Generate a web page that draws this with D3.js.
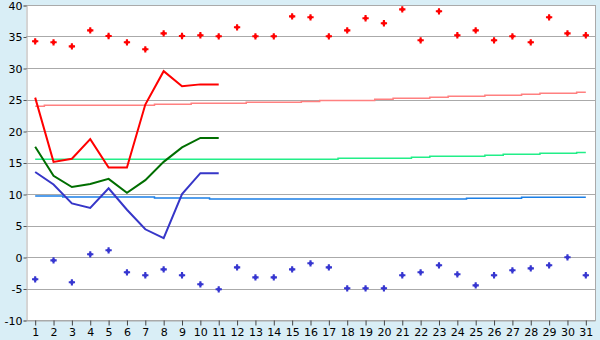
<!DOCTYPE html>
<html>
<head>
<meta charset="utf-8">
<script src="https://cdn.jsdelivr.net/npm/d3@7.9.0/dist/d3.min.js"></script>
<style>
  html, body { margin: 0; padding: 0; background: #d9eef6; }
  svg { display: block; }
  text { font-family: "DejaVu Sans", Verdana, sans-serif; font-size: 11px; fill: #000; }
</style>
</head>
<body>
<div id="chart"></div>
<script>
const days = [1, 2, 3, 4, 5, 6, 7, 8, 9, 10, 11, 12, 13, 14, 15, 16, 17, 18, 19, 20, 21, 22, 23, 24, 25, 26, 27, 28, 29, 30, 31];
const yTicks = [-10, -5, 0, 5, 10, 15, 20, 25, 30, 35, 40];

// scattered daily points
const highPoints = [34.24, 34.08, 33.44, 35.98, 35.08, 34.08, 32.97, 35.5, 35.08, 35.2, 35.03,
  36.46, 35.03, 35.03, 38.2, 38.05, 35.03, 35.98, 37.9, 37.1, 39.3, 34.4, 39.0, 35.2, 35.98,
  34.4, 35.03, 34.08, 38.05, 35.5, 35.2];
const lowPoints = [-3.54, -0.53, -4.02, 0.43, 1.06, -2.43, -2.9, -1.96, -2.9, -4.33, -5.13,
  -1.64, -3.23, -3.23, -1.96, -1.0, -1.64, -4.97, -4.97, -4.97, -2.9, -2.43, -1.32, -2.75, -4.5,
  -2.9, -2.11, -1.8, -1.32, -0.05, -2.9];

// lines for the first 11 days
const redLine = [25.3, 15.1, 15.6, 18.7, 14.2, 14.2, 24.2, 29.5, 27.1, 27.4, 27.4];
const greenLine = [17.5, 12.9, 11.1, 11.6, 12.4, 10.2, 12.2, 15.1, 17.4, 18.9, 18.9];
const blueLine = [13.5, 11.5, 8.5, 7.8, 10.9, 7.5, 4.4, 3.0, 10.0, 13.3, 13.3];

// slowly rising step lines over the month
const pinkTrend = [23.92, 24.08, 24.08, 24.08, 24.08, 24.08, 24.08, 24.24, 24.24, 24.4, 24.4,
  24.4, 24.55, 24.55, 24.55, 24.7, 24.86, 24.86, 24.86, 25.03, 25.19, 25.19, 25.35, 25.5, 25.5,
  25.67, 25.67, 25.82, 25.98, 25.98, 26.14];
const greenTrend = [15.5, 15.5, 15.5, 15.5, 15.5, 15.5, 15.5, 15.5, 15.5, 15.5, 15.5, 15.5, 15.5,
  15.5, 15.5, 15.5, 15.5, 15.66, 15.66, 15.66, 15.66, 15.82, 15.98, 15.98, 15.98, 16.14, 16.3,
  16.3, 16.46, 16.46, 16.6];
const blueTrend = [9.68, 9.68, 9.52, 9.52, 9.52, 9.52, 9.52, 9.37, 9.37, 9.37, 9.2, 9.2, 9.2, 9.2,
  9.2, 9.2, 9.2, 9.2, 9.2, 9.2, 9.2, 9.2, 9.2, 9.2, 9.31, 9.31, 9.31, 9.47, 9.47, 9.47, 9.47];

const width = 600;
const height = 340;
const plot = { left: 26, right: 595, top: 5, bottom: 320 };

const svg = d3.select('#chart')
  .append('svg')
  .attr('width', width)
  .attr('height', height);

svg.append('rect')
  .attr('width', width).attr('height', height)
  .attr('fill', '#d9eef6');

svg.append('rect')
  .attr('x', plot.left).attr('y', plot.top)
  .attr('width', plot.right - plot.left).attr('height', plot.bottom - plot.top)
  .attr('fill', '#fff');

const xScale = d3.scalePoint()
  .domain(days)
  .range([plot.left, plot.right])
  .padding(0.5);

const yScale = d3.scaleLinear()
  .domain([-10, 40])
  .range([plot.bottom, plot.top]);

// gridlines
svg.append('g')
  .selectAll('line')
  .data(yTicks)
  .join('line')
  .attr('x1', plot.left).attr('x2', plot.right)
  .attr('y1', d => Math.round(yScale(d)) + 0.5)
  .attr('y2', d => Math.round(yScale(d)) + 0.5)
  .attr('stroke', '#aaa');

// y axis
const yAxis = svg.append('g')
  .attr('transform', `translate(${plot.left + 0.5}, 0.5)`)
  .call(d3.axisLeft(yScale).tickValues(yTicks).tickSize(3).tickPadding(1).tickFormat(d => String(d)));
yAxis.select('.domain').attr('stroke', '#aaa');
yAxis.selectAll('.tick line').attr('stroke', '#555');
yAxis.selectAll('text').style('font-size', '11px').attr('dy', '0.35em');

// x axis
const xAxis = svg.append('g')
  .attr('transform', `translate(0, ${plot.bottom + 0.5})`)
  .call(d3.axisBottom(xScale).tickSize(5).tickPadding(3).tickSizeOuter(0));
xAxis.select('.domain').attr('stroke', '#aaa');
xAxis.selectAll('.tick line').attr('stroke', '#444');
xAxis.selectAll('text').style('font-size', '11px');

// right border
svg.append('line')
  .attr('x1', plot.right + 0.5).attr('x2', plot.right + 0.5)
  .attr('y1', plot.top).attr('y2', plot.bottom + 1)
  .attr('stroke', '#aaa');

// trend step lines
const stepLine = d3.line()
  .x((d, i) => xScale(days[i]))
  .y(d => yScale(d))
  .curve(d3.curveStep);

[[pinkTrend, '#ff8080'], [greenTrend, '#22ee88'], [blueTrend, '#1b7fe6']].forEach(([vals, color]) => {
  svg.append('path')
    .datum(vals)
    .attr('d', stepLine)
    .attr('fill', 'none')
    .attr('stroke', color)
    .attr('stroke-width', 1.5);
});

// main lines
const line = d3.line()
  .x((d, i) => xScale(days[i]))
  .y(d => yScale(d));

[[redLine, '#ff0000'], [greenLine, '#006e00'], [blueLine, '#3636c8']].forEach(([vals, color]) => {
  svg.append('path')
    .datum(vals)
    .attr('d', line)
    .attr('fill', 'none')
    .attr('stroke', color)
    .attr('stroke-width', 2);
});

// point markers (chunky plus)
const cross = d3.symbol().type(d3.symbolCross).size(22);
const core = d3.symbol().type(d3.symbolSquare).size(9);

function drawMarkers(vals, color) {
  const g = svg.append('g')
    .selectAll('g')
    .data(vals)
    .join('g')
    .attr('transform', (d, i) => `translate(${xScale(days[i])}, ${yScale(d)})`)
    .attr('fill', color);
  g.append('path').attr('d', cross);
  g.append('path').attr('d', core);
}

drawMarkers(highPoints, '#ff0000');
drawMarkers(lowPoints, '#3636d0');
</script>
</body>
</html>
